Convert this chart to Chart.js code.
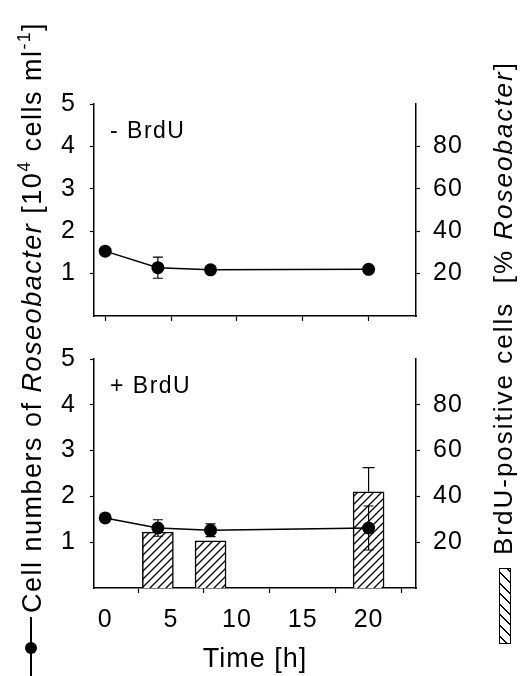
<!DOCTYPE html>
<html lang="en">
<head>
  <meta charset="UTF-8">
  <title>Roseobacter cell numbers with and without BrdU</title>
  <style>
    body {
      margin: 0;
      width: 525px;
      height: 676px;
      overflow: hidden;
      position: relative;
      background: #fff;
      font-family: Arial, "Liberation Sans", sans-serif;
      color: #000;
    }
    canvas { position: absolute; left: 0; }
    #topPanel { top: 0; }
    #bottomPanel { top: 330px; }
    .vtitle {
      position: absolute;
      transform: rotate(-90deg);
      transform-origin: left top;
      white-space: nowrap;
      line-height: 1;
    }
    .vtitle sup { font-size: 0.65em; vertical-align: 0.6em; line-height: 0; }
    #leftTitle { left: 19px; top: 613px; font-size: 27px; letter-spacing: 1.5px; }
    #rightTitle { left: 490px; top: 555px; font-size: 26px; letter-spacing: 2px; }
    #legLine { position: absolute; left: 30px; top: 617px; width: 1.5px; height: 59px; background: #000; }
    #legDot { position: absolute; left: 24.7px; top: 642px; width: 12px; height: 12px; border-radius: 50%; background: #000; }
    #legBox {
      position: absolute; left: 499px; top: 568px; width: 10px; height: 74px;
      border: 1px solid #000;
      background: repeating-linear-gradient(45deg, #fff 0 4.2px, #000 4.2px 5.6px, #fff 5.6px 7.5px);
    }
  </style>
</head>
<body>
  <canvas id="topPanel" width="525" height="345"></canvas>
  <canvas id="bottomPanel" width="525" height="346"></canvas>

  <div id="leftTitle" class="vtitle">Cell numbers of <i>Roseobacter</i> [10<sup>4</sup> cells ml<sup>-1</sup>]</div>
  <div id="legLine"></div>
  <div id="legDot"></div>
  <div id="rightTitle" class="vtitle">BrdU-positive cells&nbsp;&nbsp;[% <i>Roseobacter</i>]</div>
  <div id="legBox"></div>

  <script src="https://cdn.jsdelivr.net/npm/chart.js"></script>
  <script>
    // sampling times (h) and cell numbers (10^4 cells/ml)
    const hours = [0, 4, 8, 20];
    const cellsMinus = [1.53, 1.14, 1.09, 1.10];
    const cellsMinusErr = [0, 0.25, 0, 0];
    const cellsPlus = [1.53, 1.31, 1.26, 1.31];
    const cellsPlusErr = [0, 0.18, 0.14, 0.48];

    // BrdU-positive cells (% of Roseobacter)
    const barHours = [4, 8, 20];
    const brduPositive = [24.4, 20.6, 42];
    const brduErr = [0, 0, 10.6];

    const xTicks = [0, 5, 10, 15, 20];
    const leftTicks = [1, 2, 3, 4, 5];
    const rightTicks = [20, 40, 60, 80];

    const tickFont = { family: 'Arial, "Liberation Sans", sans-serif', size: 25 };

    function hatchPattern(ctx) {
      const c = document.createElement('canvas');
      c.width = 8; c.height = 8;
      const g = c.getContext('2d');
      g.fillStyle = '#fff';
      g.fillRect(0, 0, 8, 8);
      g.strokeStyle = '#000';
      g.lineWidth = 1.3;
      g.beginPath();
      g.moveTo(0, 8); g.lineTo(8, 0);
      g.moveTo(-2, 2); g.lineTo(2, -2);
      g.moveTo(6, 10); g.lineTo(10, 6);
      g.stroke();
      return ctx.createPattern(c, 'repeat');
    }

    const spacing = {
      id: 'spacing',
      beforeDraw(chart) { chart.ctx.letterSpacing = '1px'; }
    };

    const errorBars = {
      id: 'errorBars',
      afterDatasetsDraw(chart) {
        const ctx = chart.ctx;
        ctx.save();
        ctx.strokeStyle = '#000';
        ctx.lineWidth = 1.2;
        chart.data.datasets.forEach(ds => {
          if (!ds.errors) return;
          const ys = chart.scales[ds.yAxisID];
          ds.data.forEach((p, j) => {
            const e = ds.errors[j];
            if (!e) return;
            const x = chart.scales.x.getPixelForValue(p.x);
            const hi = ys.getPixelForValue(p.y + e);
            const lo = ys.getPixelForValue(ds.upOnly ? p.y : p.y - e);
            const w = ds.capWidth;
            ctx.beginPath();
            ctx.moveTo(x, hi); ctx.lineTo(x, lo);
            ctx.moveTo(x - w / 2, hi); ctx.lineTo(x + w / 2, hi);
            if (!ds.upOnly) { ctx.moveTo(x - w / 2, lo); ctx.lineTo(x + w / 2, lo); }
            ctx.stroke();
          });
        });
        ctx.restore();
      }
    };

    const panelLabel = {
      id: 'panelLabel',
      afterDraw(chart, args, opts) {
        const ctx = chart.ctx;
        ctx.save();
        ctx.letterSpacing = '1.5px';
        ctx.font = '23px Arial, "Liberation Sans", sans-serif';
        ctx.fillStyle = '#000';
        ctx.textBaseline = 'middle';
        ctx.fillText(opts.text, chart.chartArea.left + 16, chart.chartArea.top + 28);
        ctx.restore();
      }
    };

    function axisLook() {
      return {
        grid: { drawOnChartArea: false, drawTicks: true, tickLength: 4, tickWidth: 1.2, tickColor: '#000' },
        border: { display: true, color: '#000', width: 1.5 }
      };
    }

    function makeScales(showX) {
      return {
        x: {
          type: 'linear', min: -0.85, max: 23.6, offset: false,
          afterBuildTicks: s => { s.ticks = xTicks.map(v => ({ value: v })); },
          afterFit: s => { s.height = showX ? 88 : 13; },
          ...axisLook(),
          grid: { drawOnChartArea: false, drawTicks: true, tickLength: 5, tickWidth: 1.2, tickColor: '#000' },
          ticks: { display: showX, font: tickFont, color: '#000', padding: 12, maxRotation: 0 },
          title: {
            display: showX, text: 'Time [h]', color: '#000', padding: 0,
            font: { family: 'Arial, "Liberation Sans", sans-serif', size: 27 }
          }
        },
        y: {
          position: 'left', min: 0, max: 5,
          afterBuildTicks: s => { s.ticks = leftTicks.map(v => ({ value: v })); },
          afterFit: s => { s.width = 94; },
          ...axisLook(),
          ticks: { font: tickFont, color: '#000', padding: 14 }
        },
        y1: {
          position: 'right', min: 0, max: 100,
          afterBuildTicks: s => { s.ticks = rightTicks.map(v => ({ value: v })); },
          afterFit: s => { s.width = 109; },
          ...axisLook(),
          ticks: { font: tickFont, color: '#000', padding: 13 }
        }
      };
    }

    function lineSet(values, errs) {
      return {
        type: 'line',
        data: hours.map((h, i) => ({ x: h, y: values[i] })),
        errors: errs,
        capWidth: 10,
        yAxisID: 'y',
        borderColor: '#000',
        borderWidth: 1.5,
        pointRadius: 6.5,
        pointBackgroundColor: '#000',
        pointBorderWidth: 0,
        tension: 0,
        order: 0
      };
    }

    const common = {
      responsive: false,
      animation: false,
      plugins: { legend: { display: false }, tooltip: { enabled: false } }
    };

    new Chart(document.getElementById('topPanel'), {
      type: 'line',
      data: { datasets: [lineSet(cellsMinus, cellsMinusErr)] },
      options: {
        ...common,
        layout: { padding: { top: 104, left: 0, right: 0, bottom: 0 } },
        scales: makeScales(false),
        plugins: { ...common.plugins, panelLabel: { text: '- BrdU' } }
      },
      plugins: [spacing, errorBars, panelLabel]
    });

    const bottomCanvas = document.getElementById('bottomPanel');
    new Chart(bottomCanvas, {
      type: 'line',
      data: {
        datasets: [
          lineSet(cellsPlus, cellsPlusErr),
          {
            type: 'bar',
            data: barHours.map((h, i) => ({ x: h, y: brduPositive[i] })),
            errors: brduErr,
            upOnly: true,
            capWidth: 12,
            yAxisID: 'y1',
            backgroundColor: hatchPattern(bottomCanvas.getContext('2d')),
            borderColor: '#000',
            borderWidth: 1.5,
            barThickness: 31,
            order: 1
          }
        ]
      },
      options: {
        ...common,
        layout: { padding: { top: 27, left: 0, right: 0, bottom: 0 } },
        scales: makeScales(true),
        plugins: { ...common.plugins, panelLabel: { text: '+ BrdU' } }
      },
      plugins: [spacing, errorBars, panelLabel]
    });
  </script>
</body>
</html>
